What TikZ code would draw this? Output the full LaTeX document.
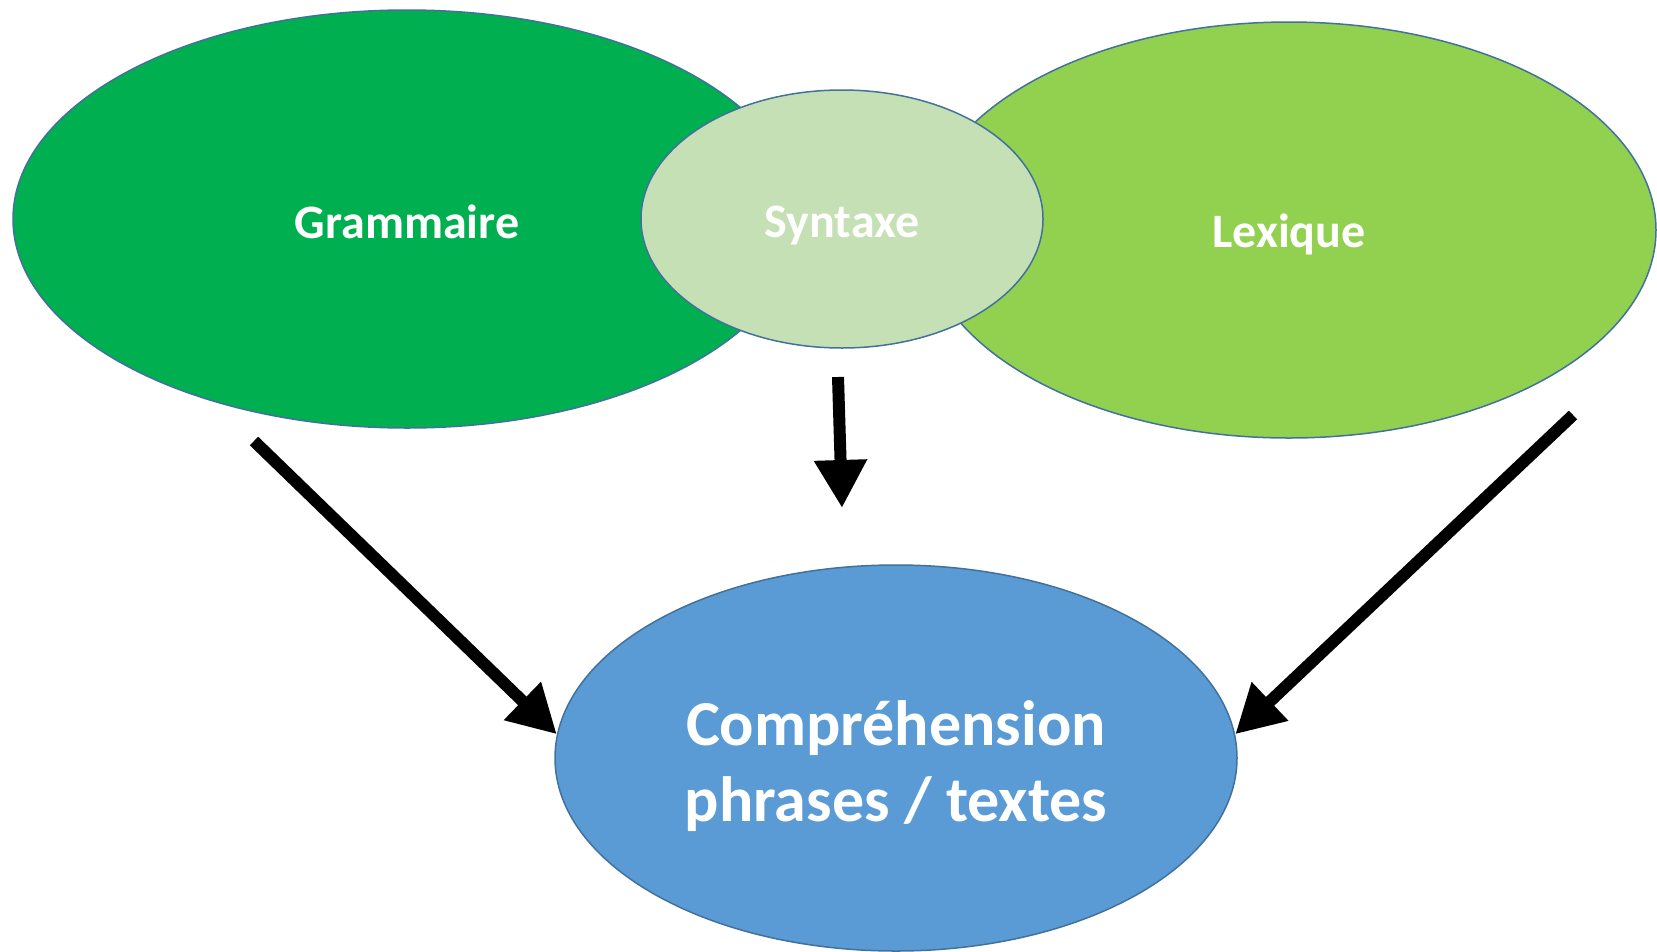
\documentclass[tikz,border=0pt]{standalone}
\usepackage{fontspec}
\setmainfont{Carlito}
\usetikzlibrary{shapes.geometric,arrows.meta}
\definecolor{gramgreen}{HTML}{00B050}
\definecolor{syntgreen}{HTML}{C5E0B4}
\definecolor{lexgreen}{HTML}{92D050}
\definecolor{compblue}{HTML}{5B9BD5}
\definecolor{rimblue}{HTML}{41719C}
\newcommand{\sinktext}[2]{\raisebox{-#1}[\height][\depth]{#2}}

\begin{document}
\begin{tikzpicture}[x=1pt,y=-1pt,
    blob/.style={ellipse,draw=rimblue,line width=1.5pt,inner sep=0pt,text=white,font=\bfseries\fontsize{48}{56}\selectfont},
    bigarrow/.style={line width=12pt,-{Triangle[length=48pt,width=50pt]}}]
    \useasboundingbox (0,0) rectangle (1657,951);
    \node[blob,fill=gramgreen,minimum width=788pt,minimum height=418pt] (gram) at (407,219) {\sinktext{3pt}{Grammaire}};
    \node[blob,fill=lexgreen,minimum width=734pt,minimum height=416pt] (lex) at (1289,230) {\sinktext{4pt}{Lexique}};
    \node[blob,fill=syntgreen,minimum width=402pt,minimum height=258pt] (synt) at (842,219) {\sinktext{7pt}{Syntaxe}};
    \node[blob,fill=compblue,minimum width=682pt,minimum height=386pt,
          font=\bfseries\fontsize{64}{76}\selectfont] (comp) at (896,758)
          {\sinktext{10pt}{\begin{tabular}{@{}c@{}}Compréhension\\phrases / textes\end{tabular}}};
    \coordinate (g-out) at (254,441);
    \coordinate (s-out) at (838,377);
    \coordinate (s-in) at (842,508);
    \coordinate (l-out) at (1573,415);
    \draw[bigarrow] (g-out) -- (comp.176);
    \draw[bigarrow] (s-out) -- (s-in);
    \draw[bigarrow] (l-out) -- (comp.4);
\end{tikzpicture}
\end{document}
